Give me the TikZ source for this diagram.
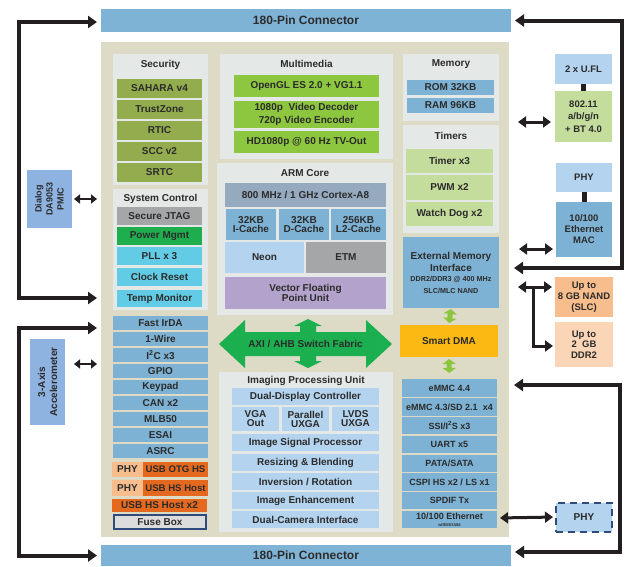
\documentclass[tikz,border=0pt]{standalone}
\usepackage{fontspec}
\setmainfont{Liberation Sans}
\usetikzlibrary{arrows.meta}
\definecolor{txt}{HTML}{2B2B2B}
\definecolor{conb}{HTML}{7FB3D5}
\definecolor{beige}{HTML}{DDDBC5}
\definecolor{panel}{HTML}{E4E8E7}
\definecolor{olive}{HTML}{93AC4E}
\definecolor{pgreen}{HTML}{1EAE4E}
\definecolor{cyanb}{HTML}{62CCE6}
\definecolor{grayb}{HTML}{A5A6A8}
\definecolor{medb}{HTML}{7EB2D4}
\definecolor{lightb}{HTML}{B4D3EE}
\definecolor{grayblue}{HTML}{95A9BF}
\definecolor{purp}{HTML}{B3A2CB}
\definecolor{lime}{HTML}{8DC63F}
\definecolor{paleg}{HTML}{C5DD9C}
\definecolor{amber}{HTML}{FDB913}
\definecolor{lorange}{HTML}{F7BD8D}
\definecolor{llorange}{HTML}{FAD6B7}
\definecolor{dorange}{HTML}{E4691F}
\definecolor{pmicb}{HTML}{8FB3E0}
\definecolor{fuse}{HTML}{DCDCDC}
\definecolor{navy}{HTML}{2E4B7B}
\definecolor{axig}{HTML}{1BAF50}
\definecolor{sgreen}{HTML}{8CC63F}
\definecolor{blk}{HTML}{231F20}
\newcommand{\fsz}[2]{\fontsize{#1}{#2}\selectfont}
\newcommand{\blk}[7]{\node[#1, minimum width={(#5-#3)*1pt}, minimum height={(#6-#4)*1pt}] (#2) at ({(#3+#5)/2},{(#4+#6)/2}) {#7};}
\tikzset{
  bx/.style={inner sep=0pt, outer sep=0pt, align=center, text=txt, font=\bfseries\fsz{10}{11}, fill=#1},
  ttl/.style={inner sep=0pt, align=center, text=txt, font=\bfseries\fsz{10}{11}},
  brk/.style={draw=blk, line width=4pt, {Triangle[length=9pt,width=12pt]}-{Triangle[length=9pt,width=12pt]}},
  dbm/.style={draw=blk, line width=3pt, {Triangle[length=8pt,width=11pt]}-{Triangle[length=8pt,width=11pt]}},
  dbs/.style={draw=blk, line width=2.5pt, {Triangle[length=6pt,width=9pt]}-{Triangle[length=6pt,width=9pt]}},
  sgl/.style={draw=blk, line width=3pt, -{Triangle[length=8pt,width=11pt]}},
  sga/.style={draw=sgreen, line width=5pt, {Triangle[length=5pt,width=13pt]}-{Triangle[length=5pt,width=13pt]}},
  lnk/.style={draw=blk, line width=5pt}
}
\begin{document}
\begin{tikzpicture}[x=1pt,y=-1pt]
\useasboundingbox (0,0) rectangle (630,566);
% connectors
\blk{bx=conb, font=\bfseries\fsz{12}{13}}{topcon}{101}{9}{511}{32}{180-Pin Connector}
\blk{bx=conb, font=\bfseries\fsz{12}{13}}{botcon}{101}{545}{511}{566}{180-Pin Connector}
\blk{bx=beige}{main}{101}{42}{509}{537}{}
% Security
\blk{bx=panel}{secp}{113}{54}{208}{185}{}
\node[ttl] (sect) at (160.5,64.5) {Security};
\blk{bx=olive}{sahara}{117}{79}{202}{98}{SAHARA v4}
\blk{bx=olive}{trust}{117}{100}{202}{119}{TrustZone}
\blk{bx=olive}{rtic}{117}{121}{202}{140}{RTIC}
\blk{bx=olive}{scc}{117}{142}{202}{161}{SCC v2}
\blk{bx=olive}{srtc}{117}{163}{202}{182}{SRTC}
% System control
\blk{bx=panel}{sysp}{113}{189}{208}{310}{}
\node[ttl] (syst) at (160.5,198.5) {System Control};
\blk{bx=grayb}{jtag}{117}{207}{202}{225}{Secure JTAG}
\blk{bx=pgreen}{pwr}{117}{227}{202}{245}{Power Mgmt}
\blk{bx=cyanb}{pll}{117}{247}{202}{265}{PLL x 3}
\blk{bx=cyanb}{clk}{117}{268}{202}{286}{Clock Reset}
\blk{bx=cyanb}{temp}{117}{290}{202}{307}{Temp Monitor}
% left list
\blk{bx=medb}{irda}{113}{316}{208}{330}{Fast IrDA}
\blk{bx=medb}{wire}{113}{332}{208}{346}{1-Wire}
\blk{bx=medb}{i2c}{113}{348}{208}{362}{I\textsuperscript{2}C x3}
\blk{bx=medb}{gpio}{113}{364}{208}{378}{GPIO}
\blk{bx=medb}{keyp}{113}{380}{208}{394}{Keypad}
\blk{bx=medb}{can}{113}{396}{208}{410}{CAN x2}
\blk{bx=medb}{mlb}{113}{412}{208}{426}{MLB50}
\blk{bx=medb}{esai}{113}{428}{208}{442}{ESAI}
\blk{bx=medb}{asrc}{113}{444}{208}{458}{ASRC}
\blk{bx=lorange}{phya}{112}{462}{143}{477}{PHY}
\blk{bx=dorange, font=\bfseries\fsz{9.6}{11}}{otg}{143}{462}{208}{477}{USB OTG HS}
\blk{bx=lorange}{phyb}{112}{480}{143}{496}{PHY}
\blk{bx=dorange, font=\bfseries\fsz{9.6}{11}}{hsh}{143}{480}{208}{496}{USB HS Host}
\blk{bx=dorange}{hsh2}{112}{499}{207}{512}{USB HS Host x2}
\blk{bx=fuse, draw=navy, line width=1.5pt}{fusebox}{114}{515}{206}{529}{Fuse Box}
% Multimedia
\blk{bx=panel}{mmp}{220}{54}{393}{159}{}
\node[ttl] (mmt) at (306.5,63.5) {Multimedia};
\blk{bx=lime}{ogl}{234}{75}{379}{97}{OpenGL ES 2.0 + VG1.1}
\blk{bx=lime, font=\bfseries\fsz{10}{12.5}}{vid}{234}{101}{379}{128}{1080p\ \ Video Decoder\\720p Video Encoder}
\blk{bx=lime}{tvo}{234}{131}{379}{153}{HD1080p @ 60 Hz TV-Out}
% ARM core
\blk{bx=panel}{armp}{217}{163}{393}{315}{}
\node[ttl] (armt) at (305,173.5) {ARM Core};
\blk{bx=grayblue}{cortex}{225}{183}{386}{207}{800 MHz / 1 GHz Cortex-A8}
\blk{bx=medb, font=\bfseries\fsz{10}{9.5}}{icache}{226}{209}{276}{240}{32KB\\I-Cache}
\blk{bx=medb, font=\bfseries\fsz{10}{9.5}}{dcache}{279}{209}{329}{240}{32KB\\D-Cache}
\blk{bx=medb, font=\bfseries\fsz{10}{9.5}}{lcache}{331}{209}{386}{240}{256KB\\L2-Cache}
\blk{bx=lightb}{neon}{225}{242}{304}{273}{Neon}
\blk{bx=grayb}{etm}{306}{242}{386}{273}{ETM}
\blk{bx=purp, font=\bfseries\fsz{10}{9.5}}{vfpu}{225}{277}{386}{309}{Vector Floating\\Point Unit}
% AXI arrow
\fill[axig] (219,344) -- (245,320) -- (245,332) -- (300,332) -- (300,326) -- (294,326) -- (308,319)
  -- (322,326) -- (316,326) -- (316,332) -- (366,332) -- (366,320) -- (392,344) -- (366,368)
  -- (366,356) -- (316,356) -- (316,361) -- (322,361) -- (308,368) -- (294,361) -- (300,361)
  -- (300,356) -- (245,356) -- (245,368) -- cycle;
\node[ttl] (axi) at (305.5,344) {AXI / AHB Switch Fabric};
% Imaging
\blk{bx=panel}{ipup}{219}{372}{393}{532}{}
\node[ttl] (iput) at (306,380.5) {Imaging Processing Unit};
\blk{bx=lightb}{ddc}{232}{388}{379}{405}{Dual-Display Controller}
\blk{bx=lightb, font=\bfseries\fsz{10}{9}}{vga}{232}{407}{279}{431}{VGA\\Out}
\blk{bx=lightb, font=\bfseries\fsz{10}{9}}{par}{282}{407}{329}{431}{Parallel\\UXGA}
\blk{bx=lightb, font=\bfseries\fsz{10}{9}}{lvds}{332}{407}{379}{431}{LVDS\\UXGA}
\blk{bx=lightb}{isp}{232}{434}{379}{451}{Image Signal Processor}
\blk{bx=lightb}{rsz}{232}{454}{379}{471}{Resizing \& Blending}
\blk{bx=lightb}{inv}{232}{473}{379}{490}{Inversion / Rotation}
\blk{bx=lightb}{enh}{232}{492}{379}{509}{Image Enhancement}
\blk{bx=lightb}{cam}{232}{511}{379}{528}{Dual-Camera Interface}
% Memory
\blk{bx=panel}{memp}{403}{54}{499}{121}{}
\node[ttl] (memt) at (451,64.5) {Memory};
\blk{bx=medb}{rom}{407}{80}{494}{95}{ROM 32KB}
\blk{bx=medb}{ram}{407}{98}{494}{113}{RAM 96KB}
% Timers
\blk{bx=panel}{timp}{403}{125}{499}{233}{}
\node[ttl] (timt) at (451,136) {Timers};
\blk{bx=paleg}{tim}{406}{149}{493}{173}{Timer x3}
\blk{bx=paleg}{pwm}{406}{175}{493}{200}{PWM x2}
\blk{bx=paleg}{wdog}{406}{202}{493}{226}{Watch Dog x2}
% EMI
\blk{bx=medb, font=\bfseries\fsz{10}{12.5}}{emi}{403}{237}{499}{308}{External Memory\\Interface\\[-2.5pt]{\fsz{7.2}{10.5}DDR2/DDR3 @ 400 MHz}\\[-1pt]{\fsz{7.2}{10.5}SLC/MLC NAND}}
\blk{bx=amber}{dma}{400}{325}{498}{357}{Smart DMA}
\draw[sga, shorten <=1pt, shorten >=2pt] (emi.south) -- (dma.north);
% right list
\blk{bx=medb, font=\bfseries\fsz{9}{10}}{emma}{402}{379}{497}{397}{eMMC 4.4}
\draw[sga, shorten <=2pt, shorten >=6pt] (dma.south) -- (emma.north);
\blk{bx=medb, font=\bfseries\fsz{9}{10}}{emmb}{402}{398}{497}{416}{eMMC 4.3/SD 2.1\ \ x4}
\blk{bx=medb, font=\bfseries\fsz{9}{10}}{ssi}{402}{417}{497}{434}{SSI/I\textsuperscript{2}S x3}
\blk{bx=medb, font=\bfseries\fsz{9}{10}}{uart}{402}{436}{497}{453}{UART x5}
\blk{bx=medb, font=\bfseries\fsz{9}{10}}{pata}{402}{455}{497}{472}{PATA/SATA}
\blk{bx=medb, font=\bfseries\fsz{9}{10}}{cspi}{402}{473}{497}{491}{CSPI HS x2 / LS x1}
\blk{bx=medb, font=\bfseries\fsz{9}{10}}{spdif}{402}{492}{497}{509}{SPDIF Tx}
\blk{bx=medb, font=\bfseries\fsz{9}{7}}{ethr}{402}{511}{497}{528}{10/100 Ethernet\\{\fsz{4}{5}w/IEEE1588}}
% right side
\blk{bx=lightb, font=\bfseries\fsz{9.5}{11}}{ufl}{555}{54}{612}{84}{2 x U.FL}
\blk{bx=paleg, font=\bfseries\fsz{9.5}{12.5}}{wifi}{555}{91}{612}{142}{802.11\\a/b/g/n\\+ BT 4.0}
\draw[lnk] (ufl.south) -- (wifi.north);
\blk{bx=lightb, font=\bfseries\fsz{9.5}{11}}{phyt}{556}{163}{612}{192}{PHY}
\blk{bx=medb, font=\bfseries\fsz{9.5}{11}}{mac}{556}{202}{612}{257}{10/100\\Ethernet\\MAC}
\draw[lnk] (phyt.south) -- (mac.north);
\blk{bx=lorange, font=\bfseries\fsz{9.5}{11}}{nand}{555}{277}{613}{317}{Up to\\8 GB NAND\\(SLC)}
\blk{bx=llorange, font=\bfseries\fsz{9.5}{10.5}}{ddr}{555}{322}{613}{367}{Up to\\2\ \ GB\\DDR2}
\blk{bx=lightb, draw=navy, line width=1.2pt, dash pattern=on 7pt off 5pt, font=\bfseries\fsz{10}{11}}{phyb2}{556}{503}{612}{532}{PHY}
% off-chip left
\blk{bx=pmicb}{pmic}{27}{170}{72}{228}{}
\node[ttl, rotate=90, font=\bfseries\fsz{9}{11}] (pmict) at (pmic.center) {Dialog\\DA9053\\PMIC};
\blk{bx=pmicb}{accel}{30}{339}{65}{425}{}
\node[ttl, rotate=90, font=\bfseries\fsz{10}{12}] (accelt) at (accel.center) {3-Axis\\Accelerometer};
% free ends
\coordinate (lt) at (97,298);
\coordinate (lb) at (97,328);
\coordinate (rt) at (514,268);
\coordinate (rb) at (514,385);
\coordinate (pmx) at (97,199);
\coordinate (acx) at (97,364);
\coordinate (wfx) at (518,122);
\coordinate (mcx) at (519,249);
\coordinate (ndx) at (518,287);
\coordinate (jn) at (533,287);
% brackets
\draw[brk] ([xshift=-4pt,yshift=-1.5pt]topcon.west) -| (19,298) -- (lt);
\draw[brk] (lb) -- (19,328) |- ([xshift=-4pt]botcon.west);
\draw[brk] ([xshift=4pt]topcon.east) -| (622,268) -- (rt);
\draw[brk] (rb) -- (620,385) |- ([xshift=4pt,yshift=3.5pt]botcon.east);
% double arrows
\draw[dbs, shorten <=2pt] (pmic.east |- pmx) -- (pmx);
\draw[dbs, shorten <=9pt] (accel.east |- acx) -- (acx);
\draw[dbm, shorten >=4pt] (wfx) -- (wifi.west |- wfx);
\draw[dbm, shorten >=3pt] (mcx) -- (mac.west |- mcx);
\draw[dbm, shorten >=3pt] (ndx) -- (nand.west |- ndx);
\draw[sgl, shorten >=2pt] (jn) |- ([yshift=-1.5pt]ddr.west);
\draw[dbm, shorten <=3pt, shorten >=3pt] ([yshift=1.5pt]ethr.east) -- ([yshift=0.5pt]phyb2.west);
\end{tikzpicture}
\end{document}
